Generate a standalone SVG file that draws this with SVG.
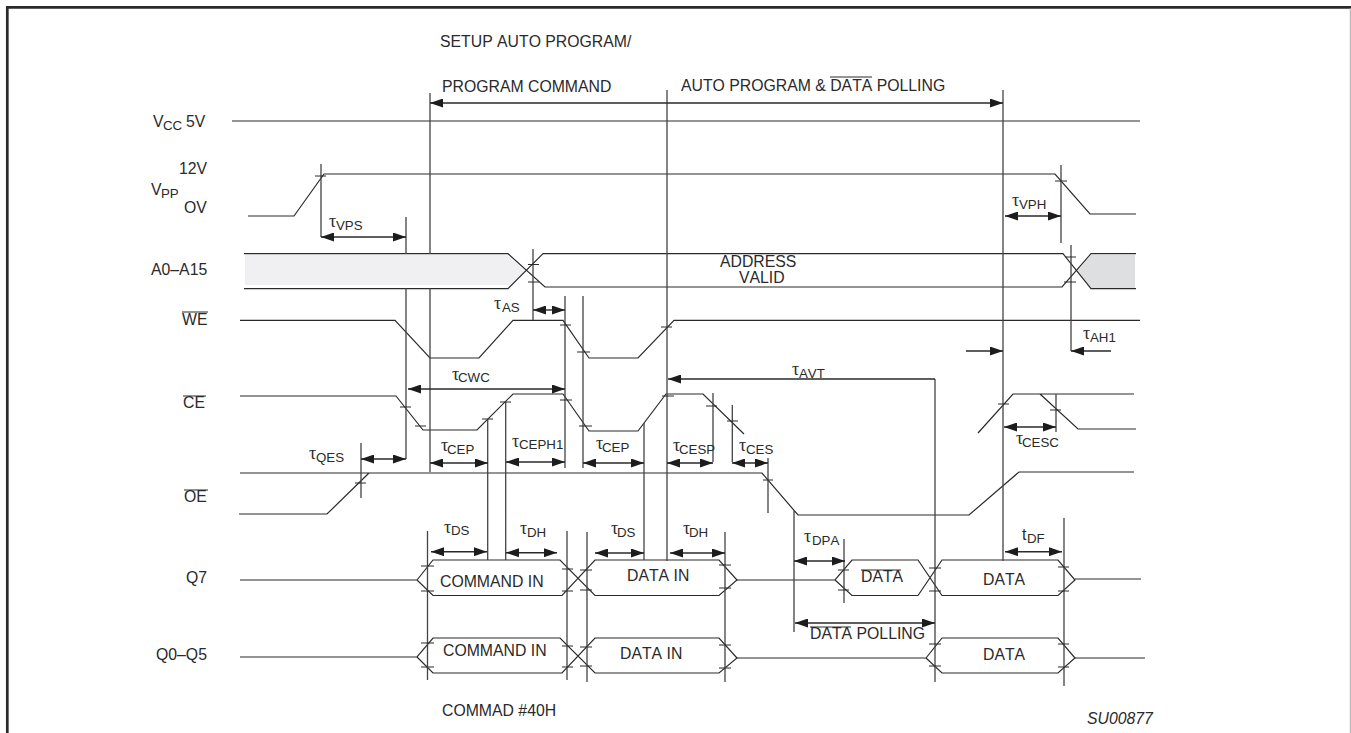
<svg xmlns="http://www.w3.org/2000/svg" width="1351" height="733" viewBox="0 0 1351 733">
<style>
text{font-family:"Liberation Sans",Arial,sans-serif;font-size:15.8px;fill:#2a2a2a;font-kerning:none}
.s{font-family:"Liberation Sans",Arial,sans-serif;font-size:13.3px}
.u{font-family:"Liberation Serif","Times New Roman",serif;font-size:18px}
.w{fill:none;stroke:#2a2a2a;stroke-width:1.2;stroke-linejoin:miter}
.v{fill:none;stroke:#444;stroke-width:1.3}
.k{fill:none;stroke:#2a2a2a;stroke-width:1}
.a{fill:none;stroke:#2a2a2a;stroke-width:1.4;marker-start:url(#l);marker-end:url(#r)}
.ar{fill:none;stroke:#2a2a2a;stroke-width:1.4;marker-end:url(#r)}
.al{fill:none;stroke:#2a2a2a;stroke-width:1.4;marker-start:url(#l)}
.o{stroke:#2a2a2a;stroke-width:1}
</style>
<defs>
<marker id="r" markerUnits="userSpaceOnUse" markerWidth="13" markerHeight="9" refX="13" refY="4.5" orient="0"><path d="M0 0L13 4.5L0 9Z" fill="#1c1c1c"/></marker>
<marker id="l" markerUnits="userSpaceOnUse" markerWidth="13" markerHeight="9" refX="0" refY="4.5" orient="0"><path d="M13 0L0 4.5L13 9Z" fill="#1c1c1c"/></marker>
</defs>
<rect width="1351" height="733" fill="#fff"/>
<g id="frame">
<path d="M7.3 733V7.3H1351" fill="none" stroke="#2a2a2a" stroke-width="2.7"/>
<path d="M1350.3 8V733" fill="none" stroke="#aaa" stroke-width="1"/>
</g>
<g id="phase-labels">
<text x="440" y="47">SETUP AUTO PROGRAM/</text>
<text x="442" y="92">PROGRAM COMMAND</text>
<text x="681" y="91">AUTO PROGRAM &amp; DATA POLLING</text>
<line class="o" x1="830" y1="77" x2="872" y2="77"/>
<text x="442" y="716">COMMAD #40H</text>
<text x="1087" y="724" font-style="italic">SU00877</text>
</g>
<g id="sig-vcc">
<path class="w" d="M232 121H1140"/>
<text x="153" y="127">V<tspan class="s" x="163" dy="3">CC</tspan><tspan x="186" dy="-3">5V</tspan></text>
</g>
<g id="sig-vpp">
<path class="w" d="M248 216H294L324 174H1055L1090 214H1136"/>
<text x="179" y="174">12V</text>
<text x="151" y="195">V<tspan class="s" x="161" dy="3">PP</tspan></text>
<text x="184" y="213">OV</text>
</g>
<g id="sig-address">
<path fill="#f0f0f2" d="M245 255H507L526 271L510 285H245Z"/>
<path fill="#dedfe0" d="M1091 255L1077 271L1091 288H1135V255Z"/>
<path class="w" d="M244 253.7H508L545 287H1062L1091 253.7H1136"/>
<path class="w" d="M244 288.7H508L543 253.7H1063L1091 288.7H1136"/>
<text x="151" y="275">A0–A15</text>
<text x="720" y="267">ADDRESS</text>
<text x="739" y="283">VALID</text>
</g>
<g id="sig-we">
<path class="w" d="M240 320.3H395L430 358H479L513 320.3H563L589 358H638L674 320.3H1140"/>
<text x="182" y="325">WE</text>
<line class="o" x1="182" y1="312" x2="208" y2="312"/>
</g>
<g id="sig-ce">
<path class="w" d="M240 396H396L423 430H477L513 394H563L589 431H638L666 394H703L744 434"/>
<path class="w" d="M978 433L1013 394H1134M1040 394L1078 429H1136"/>
<text x="183" y="408">CE</text>
<line class="o" x1="183" y1="396" x2="206" y2="396"/>
</g>
<g id="sig-oe">
<path class="w" d="M239 514H327L369 473M240 473H762L798 515H969L1019 472H1134"/>
<text x="184" y="502">OE</text>
<line class="o" x1="184" y1="490" x2="208" y2="490"/>
</g>
<g id="sig-q7">
<path class="w" d="M240 580H417L433 560H560L595 595.5H719L737 580L719 560H595L562 595.5H433L417 580"/>
<path class="w" d="M737 580H835L852 560H918L942 595.5H1058L1075 580L1058 560H942L918 595.5H852L835 580"/>
<path class="w" d="M1075 579H1141"/>
<text x="186" y="583">Q7</text>
<text x="440" y="587">COMMAND IN</text>
<text x="627" y="581">DATA IN</text>
<text x="861" y="582">DATA</text>
<line class="o" x1="861" y1="570" x2="901" y2="570"/>
<text x="983" y="585">DATA</text>
</g>
<g id="sig-q0q5">
<path class="w" d="M240 657H417L433 638H560L595 673H719L737 658L719 638H595L562 673H433L417 657"/>
<path class="w" d="M737 658H926L942 638H1058L1075 658L1058 673H942L926 658"/>
<path class="w" d="M1075 658H1145"/>
<text x="156" y="660">Q0–Q5</text>
<text x="443" y="656">COMMAND IN</text>
<text x="620" y="659">DATA IN</text>
<text x="983" y="660">DATA</text>
</g>
<g id="connectors">
<path class="v" d="M430 93V254M430 288V472M406 217V254M406 288V459M321 164V237M667 90V561M1003 90V561M533 249V320M565 296V468M583 296V468M487.7 419V560M505.7 402V560M644 423V560M361 443V498M768 458V513M794 511V632M713 393V462M732.3 405V462M935 379V682M844 539V603M1056 394V432M1061 165V243M1071 245V351M427.5 531V680M567 531V680M587 532V682M725 532V682M1064 518V686"/>
<path class="k" d="M315 176h11M528 264.5h11M528 282h11M560 325h11M577 352h13M661 327h11M400 407h11M415 426h11M482 419h11M500 402h11M560 400h12M579 426h13M662 396h12M706 406h11M727 421h11M998 404h11M1050 410h11M355 483h11M763 480h10M1055 181h12M1065 257h11M1064 282h12M421 566h13M421 591h13M562 569h11M562 591h11M580 570h12M580 590h12M719 565h12M719 588h12M838 570h11M838 590h11M929 568h12M929 591h12M1058 567h11M1058 591h11M421 643h13M421 667h13M562 646h11M562 667h11M580 647h12M580 666h12M719 645h12M719 668h12M929 644h12M929 666h12M1058 644h11M1058 667h11"/>
<line class="a" x1="430" y1="103" x2="1003" y2="103"/>
<line class="a" x1="321" y1="237" x2="406" y2="237"/>
<line class="a" x1="533" y1="310" x2="565" y2="310"/>
<line class="a" x1="408" y1="389" x2="565" y2="389"/>
<line class="a" x1="361" y1="459" x2="406" y2="459"/>
<line class="a" x1="430" y1="463" x2="488" y2="463"/>
<line class="a" x1="506" y1="462" x2="565" y2="462"/>
<line class="a" x1="583" y1="463" x2="644" y2="463"/>
<line class="a" x1="667" y1="463" x2="713" y2="463"/>
<line class="a" x1="732" y1="463" x2="768" y2="463"/>
<line class="a" x1="431" y1="551.7" x2="487" y2="551.7"/>
<line class="a" x1="506" y1="552.7" x2="557" y2="552.7"/>
<line class="a" x1="595" y1="553" x2="644" y2="553"/>
<line class="a" x1="670" y1="553" x2="725" y2="553"/>
<line class="a" x1="794" y1="561" x2="845" y2="561"/>
<line class="a" x1="795" y1="623" x2="935" y2="623"/>
<line class="a" x1="1005" y1="551.7" x2="1062" y2="551.7"/>
<line class="a" x1="1005" y1="216" x2="1061" y2="216"/>
<line class="a" x1="1004" y1="427" x2="1056" y2="427"/>
<line class="ar" x1="966" y1="351" x2="1003" y2="351"/>
<line class="al" x1="1071" y1="351" x2="1111" y2="351"/>
<path class="al" d="M668 379H935"/>
</g>
<g id="timing-labels">
<text class="u" x="329" y="227">τ<tspan class="s" x="336" y="230">VPS</tspan></text>
<text class="u" x="494" y="309">τ<tspan class="s" x="502" y="312">AS</tspan></text>
<text class="u" x="452" y="380">τ<tspan class="s" x="458" y="382">CWC</tspan></text>
<text class="u" x="309" y="459">τ<tspan class="s" x="316" y="462">QES</tspan></text>
<text class="u" x="441" y="451">τ<tspan class="s" x="447" y="454">CEP</tspan></text>
<text class="u" x="512" y="447">τ<tspan class="s" x="519" y="449">CEPH1</tspan></text>
<text class="u" x="596" y="449">τ<tspan class="s" x="602" y="452">CEP</tspan></text>
<text class="u" x="673" y="451">τ<tspan class="s" x="679" y="454">CESP</tspan></text>
<text class="u" x="739" y="451">τ<tspan class="s" x="746" y="454">CES</tspan></text>
<text class="u" x="792" y="375">τ<tspan class="s" x="799" y="378">AVT</tspan></text>
<text class="u" x="444" y="533">τ<tspan class="s" x="451" y="535">DS</tspan></text>
<text class="u" x="520" y="534">τ<tspan class="s" x="527" y="537">DH</tspan></text>
<text class="u" x="611" y="534">τ<tspan class="s" x="617" y="537">DS</tspan></text>
<text class="u" x="683" y="534">τ<tspan class="s" x="689" y="537">DH</tspan></text>
<text class="u" x="804" y="542">τ<tspan class="s" x="812" y="545">DPA</tspan></text>
<text x="1022" y="540">t<tspan class="s" x="1027" y="543">DF</tspan></text>
<text class="u" x="1016" y="444">τ<tspan class="s" x="1022" y="447">CESC</tspan></text>
<text class="u" x="1012" y="206">τ<tspan class="s" x="1019" y="209">VPH</tspan></text>
<text class="u" x="1083" y="339">τ<tspan class="s" x="1090" y="342">AH1</tspan></text>
<text x="810" y="639">DATA POLLING</text>
<line class="o" x1="810" y1="627" x2="851" y2="627"/>
</g>
</svg>
